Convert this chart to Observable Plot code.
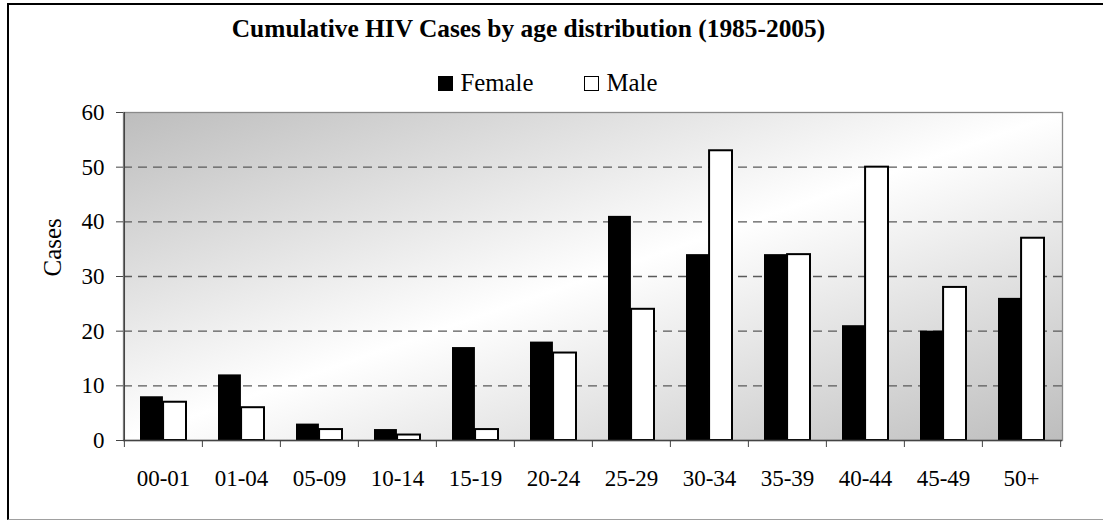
<!DOCTYPE html>
<html>
<head>
<meta charset="utf-8">
<script src="https://cdn.jsdelivr.net/npm/d3@7"></script>
<script src="https://cdn.jsdelivr.net/npm/@observablehq/plot@0.6"></script>
<style>
  html, body { margin: 0; padding: 0; background: #fff; }
  body { width: 1103px; height: 521px; position: relative; overflow: hidden; font-family: "Liberation Serif", "Times New Roman", serif; }
  #title { position: absolute; left: 0; top: 0; width: 1057px; height: 56px; line-height: 56px; text-align: center; font-weight: bold; font-size: 25.4px; color: #000; white-space: nowrap; }
  #legend { position: absolute; left: 0; top: 66px; width: 1095px; height: 34px; display: flex; justify-content: center; align-items: center; font-size: 24.8px; color: #000; }
  .item { display: flex; align-items: center; }
  .sw { width: 15px; height: 15px; box-sizing: border-box; border: 1.5px solid #000; margin-right: 8px; }
  #chart { position: absolute; left: 0; top: 100px; }
  #border { position: absolute; left: 7px; top: 3px; width: 1120px; height: 517px; box-sizing: border-box; border-left: 2px solid #000; border-top: 2px solid #000; border-bottom: 1px solid #a0a0a0; pointer-events: none; }
</style>
</head>
<body>
<div id="title">Cumulative HIV Cases by age distribution (1985-2005)</div>
<div id="legend"></div>
<div id="chart"></div>
<div id="border"></div>
<script>
// ---- data ----
const ages = ["00-01", "01-04", "05-09", "10-14", "15-19", "20-24", "25-29", "30-34", "35-39", "40-44", "45-49", "50+"];
const female = [8, 12, 3, 2, 17, 18, 41, 34, 34, 21, 20, 26];
const male = [7, 6, 2, 1, 2, 16, 24, 53, 34, 50, 28, 37];
const seriesNames = ["Female", "Male"];
const seriesFills = ["#000000", "#ffffff"];
const yTicks = [0, 10, 20, 30, 40, 50, 60];
const gridTicks = [10, 20, 30, 40, 50];
const yLabel = "Cases";

// ---- legend ----
const legend = document.getElementById("legend");
seriesNames.forEach((name, i) => {
  const item = document.createElement("div");
  item.className = "item";
  if (i > 0) item.style.marginLeft = "50px";
  const sw = document.createElement("div");
  sw.className = "sw";
  sw.style.background = seriesFills[i];
  const label = document.createElement("span");
  label.textContent = name;
  item.appendChild(sw);
  item.appendChild(label);
  legend.appendChild(item);
});

// ---- table ----
const rows = [];
ages.forEach((a, i) => {
  rows.push({age: a, sex: seriesNames[0], value: female[i]});
  rows.push({age: a, sex: seriesNames[1], value: male[i]});
});

const W = 1103, H = 421, ML = 123, MR = 41, MT = 12, MB = 81;
const padInner = 0.41;
const step = (W - ML - MR) / ages.length;
const bw = step * (1 - padInner);
const half = bw / 2;

const ns = "http://www.w3.org/2000/svg";
function gradientDefs() {
  const defs = document.createElementNS(ns, "defs");
  const lg = document.createElementNS(ns, "linearGradient");
  lg.setAttribute("id", "bggrad");
  lg.setAttribute("x1", "0"); lg.setAttribute("y1", "0");
  lg.setAttribute("x2", "1"); lg.setAttribute("y2", "1");
  [["0", "#bdbdbd"], ["0.5", "#ffffff"], ["1", "#bdbdbd"]].forEach(([o, c]) => {
    const s = document.createElementNS(ns, "stop");
    s.setAttribute("offset", o);
    s.setAttribute("stop-color", c);
    lg.appendChild(s);
  });
  defs.appendChild(lg);
  return defs;
}

const chart = Plot.plot({
  width: W,
  height: H,
  marginLeft: ML,
  marginRight: MR,
  marginTop: MT,
  marginBottom: MB,
  style: {fontFamily: "Liberation Serif, Times New Roman, serif", fontSize: "23px", background: "transparent", overflow: "visible", color: "#000"},
  x: {domain: ages, paddingInner: padInner, paddingOuter: padInner / 2, label: null},
  y: {domain: [0, 60], label: null},
  marks: [
    gradientDefs,
    Plot.frame({fill: "url(#bggrad)", stroke: null}),
    Plot.ruleY(gridTicks, {stroke: "#5a5a5a", strokeWidth: 1.3, strokeDasharray: "9,6"}),
    Plot.frame({stroke: "#8a8a8a", strokeWidth: 1.3}),
    Plot.barY(rows.filter(d => d.sex === seriesNames[0]), {x: "age", y: "value", fill: seriesFills[0], insetRight: half}),
    Plot.barY(rows.filter(d => d.sex === seriesNames[1]), {x: "age", y: "value", fill: seriesFills[1], stroke: "#000", strokeWidth: 2, insetLeft: half}),
    Plot.ruleY([0], {stroke: "#444", strokeWidth: 1.3}),
    Plot.ruleX([ages[0]], {dx: -step / 2, stroke: "#444", strokeWidth: 1.3}),
    Plot.axisY({ticks: yTicks, tickSize: 7, tickPadding: 12, tickFormat: d => String(d), label: null, stroke: "#444", fontSize: 23}),
    Plot.axisX({tickSize: 7, dx: -step / 2, text: null, label: null, stroke: "#444"}),
    Plot.axisX({ticks: [ages[ages.length - 1]], tickSize: 7, dx: step / 2, text: null, label: null, stroke: "#444"}),
    Plot.axisX({tickSize: 0, tickPadding: 29, label: null, fontSize: 23}),
    Plot.text([yLabel], {frameAnchor: "left", text: d => d, rotate: -90, dx: -71, fontSize: 25})
  ]
});
document.getElementById("chart").appendChild(chart);
</script>
</body>
</html>
